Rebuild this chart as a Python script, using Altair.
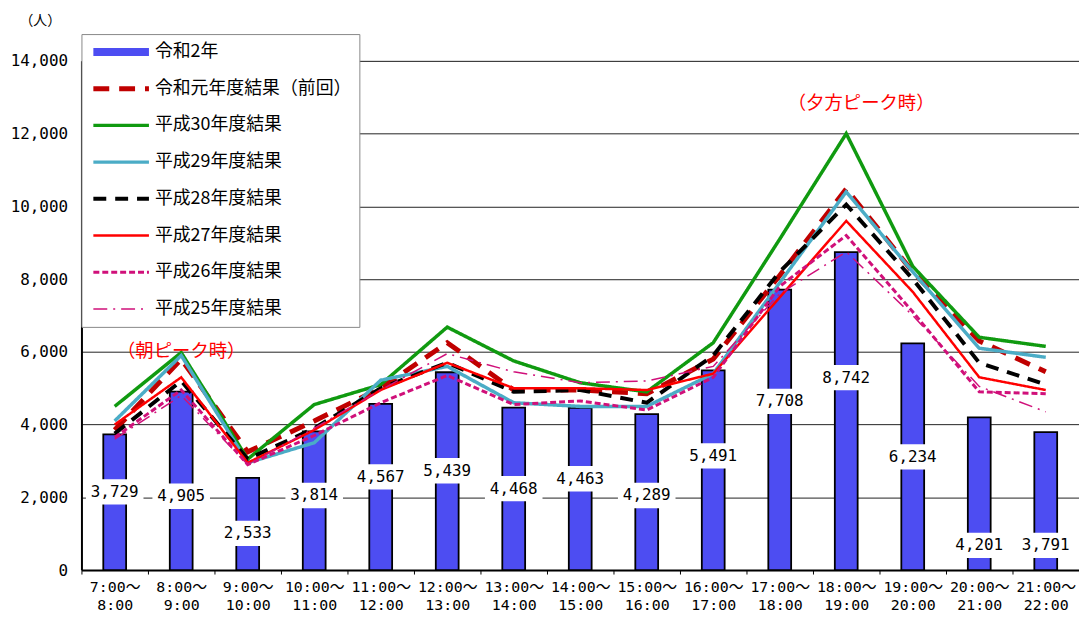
import altair as alt
import pandas as pd

# ---- data ----
start_times = ["7:00", "8:00", "9:00", "10:00", "11:00", "12:00", "13:00", "14:00",
               "15:00", "16:00", "17:00", "18:00", "19:00", "20:00", "21:00"]
end_times = ["8:00", "9:00", "10:00", "11:00", "12:00", "13:00", "14:00", "15:00",
             "16:00", "17:00", "18:00", "19:00", "20:00", "21:00", "22:00"]
categories = [f"{s}～\n{e}" for s, e in zip(start_times, end_times)]

bar_name = "令和2年"
bar_values = [3729, 4905, 2533, 3814, 4567, 5439, 4468, 4463, 4289, 5491, 7708, 8742, 6234, 4201, 3791]
label_height = [2150, 2030, 1010, 2050, 2560, 2730, 2240, 2510, 2050, 3140, 4640, 5290, 3110, 680, 680]

line_names = ["令和元年度結果（前回）", "平成30年度結果", "平成29年度結果", "平成28年度結果",
              "平成27年度結果", "平成26年度結果", "平成25年度結果"]
r1  = [3850, 5800, 3250, 4100, 5000, 6250, 4950, 4950, 4850, 5800, 8100, 10480, 8200, 6300, 5450]
h30 = [4500, 5980, 3050, 4550, 5100, 6680, 5750, 5150, 4900, 6250, 9100, 12000, 8350, 6400, 6150]
h29 = [4100, 5900, 2950, 3500, 5220, 5600, 4600, 4500, 4500, 5400, 7900, 10400, 8200, 6100, 5850]
h28 = [3750, 5200, 3050, 3900, 5000, 5700, 4900, 4950, 4600, 5900, 8200, 10050, 8000, 5700, 5100]
h27 = [4000, 5300, 2950, 3850, 4950, 5700, 5000, 5000, 4950, 5400, 7500, 9600, 7650, 5300, 4950]
h26 = [3650, 4950, 2900, 3700, 4600, 5350, 4550, 4650, 4400, 5300, 7800, 9200, 7100, 4900, 4850]
h25 = [3600, 4800, 2900, 3900, 4950, 5950, 5450, 5150, 5200, 5600, 7600, 8750, 7000, 5050, 4350]
line_values = [r1, h30, h29, h28, h27, h26, h25]

annot_texts = ["（朝ピーク時）", "（夕方ピーク時）"]
annot_cats = [categories[1], categories[11]]
annot_y = [6030, 12830]

# ---- styles ----
domain = [bar_name] + line_names
colors = ["#4d4df2", "#c00000", "#109a10", "#4bacc6", "#000000", "#ff0000", "#d0107a", "#d0107a"]
dashes = [[1, 0], [16, 10], [1, 0], [1, 0], [13, 9], [1, 0], [6, 3], [14, 6, 2, 6]]
widths = [8, 5, 3.5, 3.5, 4, 2.5, 3, 1.5]

NUM_FONT = "DejaVu Sans Mono, Noto Sans CJK JP"
JP_FONT = "Noto Sans CJK JP"

bar_df = pd.DataFrame({"cat": categories, "value": bar_values,
                       "label": [f"{v:,}" for v in bar_values], "ly": label_height})
rows = []
for name, vals in zip(line_names, line_values):
    for c, v in zip(categories, vals):
        rows.append({"cat": c, "series": name, "value": v})
line_df = pd.DataFrame(rows)
annot_df = pd.DataFrame({"cat": annot_cats, "y": annot_y, "text": annot_texts})

xscale = alt.Scale(type="band", domain=categories, paddingInner=0, paddingOuter=0)
yscale = alt.Scale(domain=[0, 14000], nice=False)

x_enc = alt.X("cat:N", scale=xscale, sort=categories, axis=alt.Axis(
    title=None, labelAngle=0, labelExpr="split(datum.label, '\\n')",
    labelFont=NUM_FONT, labelFontSize=15, labelLineHeight=18, labelColor="black",
    labelPadding=6, domainColor="black", domainWidth=2,
    ticks=True, tickBand="extent", tickSize=4, tickColor="black", grid=False))

y_enc = alt.Y("value:Q", scale=yscale, axis=alt.Axis(
    values=list(range(0, 14001, 2000)), format=",d",
    labelFont=NUM_FONT, labelFontSize=16, labelColor="black", labelPadding=14,
    ticks=False, domainColor="black", domainWidth=2,
    grid=True, gridColor="#222222", gridWidth=1,
    title="（人）", titleAngle=0, titleX=-42, titleY=-41, titleAlign="center",
    titleBaseline="middle", titleFont=JP_FONT, titleFontSize=14, titleFontWeight="normal",
    titleColor="black"))

bars = alt.Chart(bar_df).mark_bar(size=23, color=colors[0], stroke="black", strokeWidth=1.8).encode(
    x=x_enc, y=y_enc)

boxes = alt.Chart(bar_df).mark_point(
    shape="M-1,-0.44H1V0.44H-1Z", filled=True, fill="white", opacity=1, strokeWidth=0, size=3364
).encode(x=alt.X("cat:N", scale=xscale, sort=categories), y=alt.Y("ly:Q", scale=yscale))

labels = alt.Chart(bar_df).mark_text(font=NUM_FONT, fontSize=16, color="black", baseline="middle").encode(
    x=alt.X("cat:N", scale=xscale, sort=categories), y=alt.Y("ly:Q", scale=yscale), text="label:N")

legend = alt.Legend(
    title=None, orient="none", legendX=0, legendY=-27, symbolType="stroke", symbolSize=3136,
    clipHeight=20, rowPadding=17, labelFont=JP_FONT, labelFontSize=18, labelColor="black",
    labelOffset=2, padding=8, fillColor="white", strokeColor="#888888", labelLimit=400)

lines = alt.Chart(line_df).mark_line().encode(
    x=alt.X("cat:N", scale=xscale, sort=categories),
    y=alt.Y("value:Q", scale=yscale),
    color=alt.Color("series:N", scale=alt.Scale(domain=domain, range=colors), legend=legend),
    strokeDash=alt.StrokeDash("series:N", scale=alt.Scale(domain=domain, range=dashes), legend=legend),
    strokeWidth=alt.StrokeWidth("series:N", scale=alt.Scale(type="ordinal", domain=domain, range=widths), legend=legend),
)

annot1 = alt.Chart(annot_df.iloc[[0]]).mark_text(font=JP_FONT, fontSize=18.5, color="#ff0000").encode(
    x=alt.X("cat:N", scale=xscale, sort=categories), y=alt.Y("y:Q", scale=yscale), text="text:N")
annot2 = alt.Chart(annot_df.iloc[[1]]).mark_text(font=JP_FONT, fontSize=18.5, color="#ff0000", dx=15).encode(
    x=alt.X("cat:N", scale=xscale, sort=categories), y=alt.Y("y:Q", scale=yscale), text="text:N")

chart = alt.layer(bars, boxes, labels, lines, annot1, annot2).properties(
    width=1005, height=513,
    autosize=alt.AutoSizeParams(type="none"),
    padding={"left": 74, "top": 51, "right": 0, "bottom": 42},
).configure_view(stroke=None).configure(background="white")

chart.save("out.html", embed_options={"renderer": "svg", "actions": False})
